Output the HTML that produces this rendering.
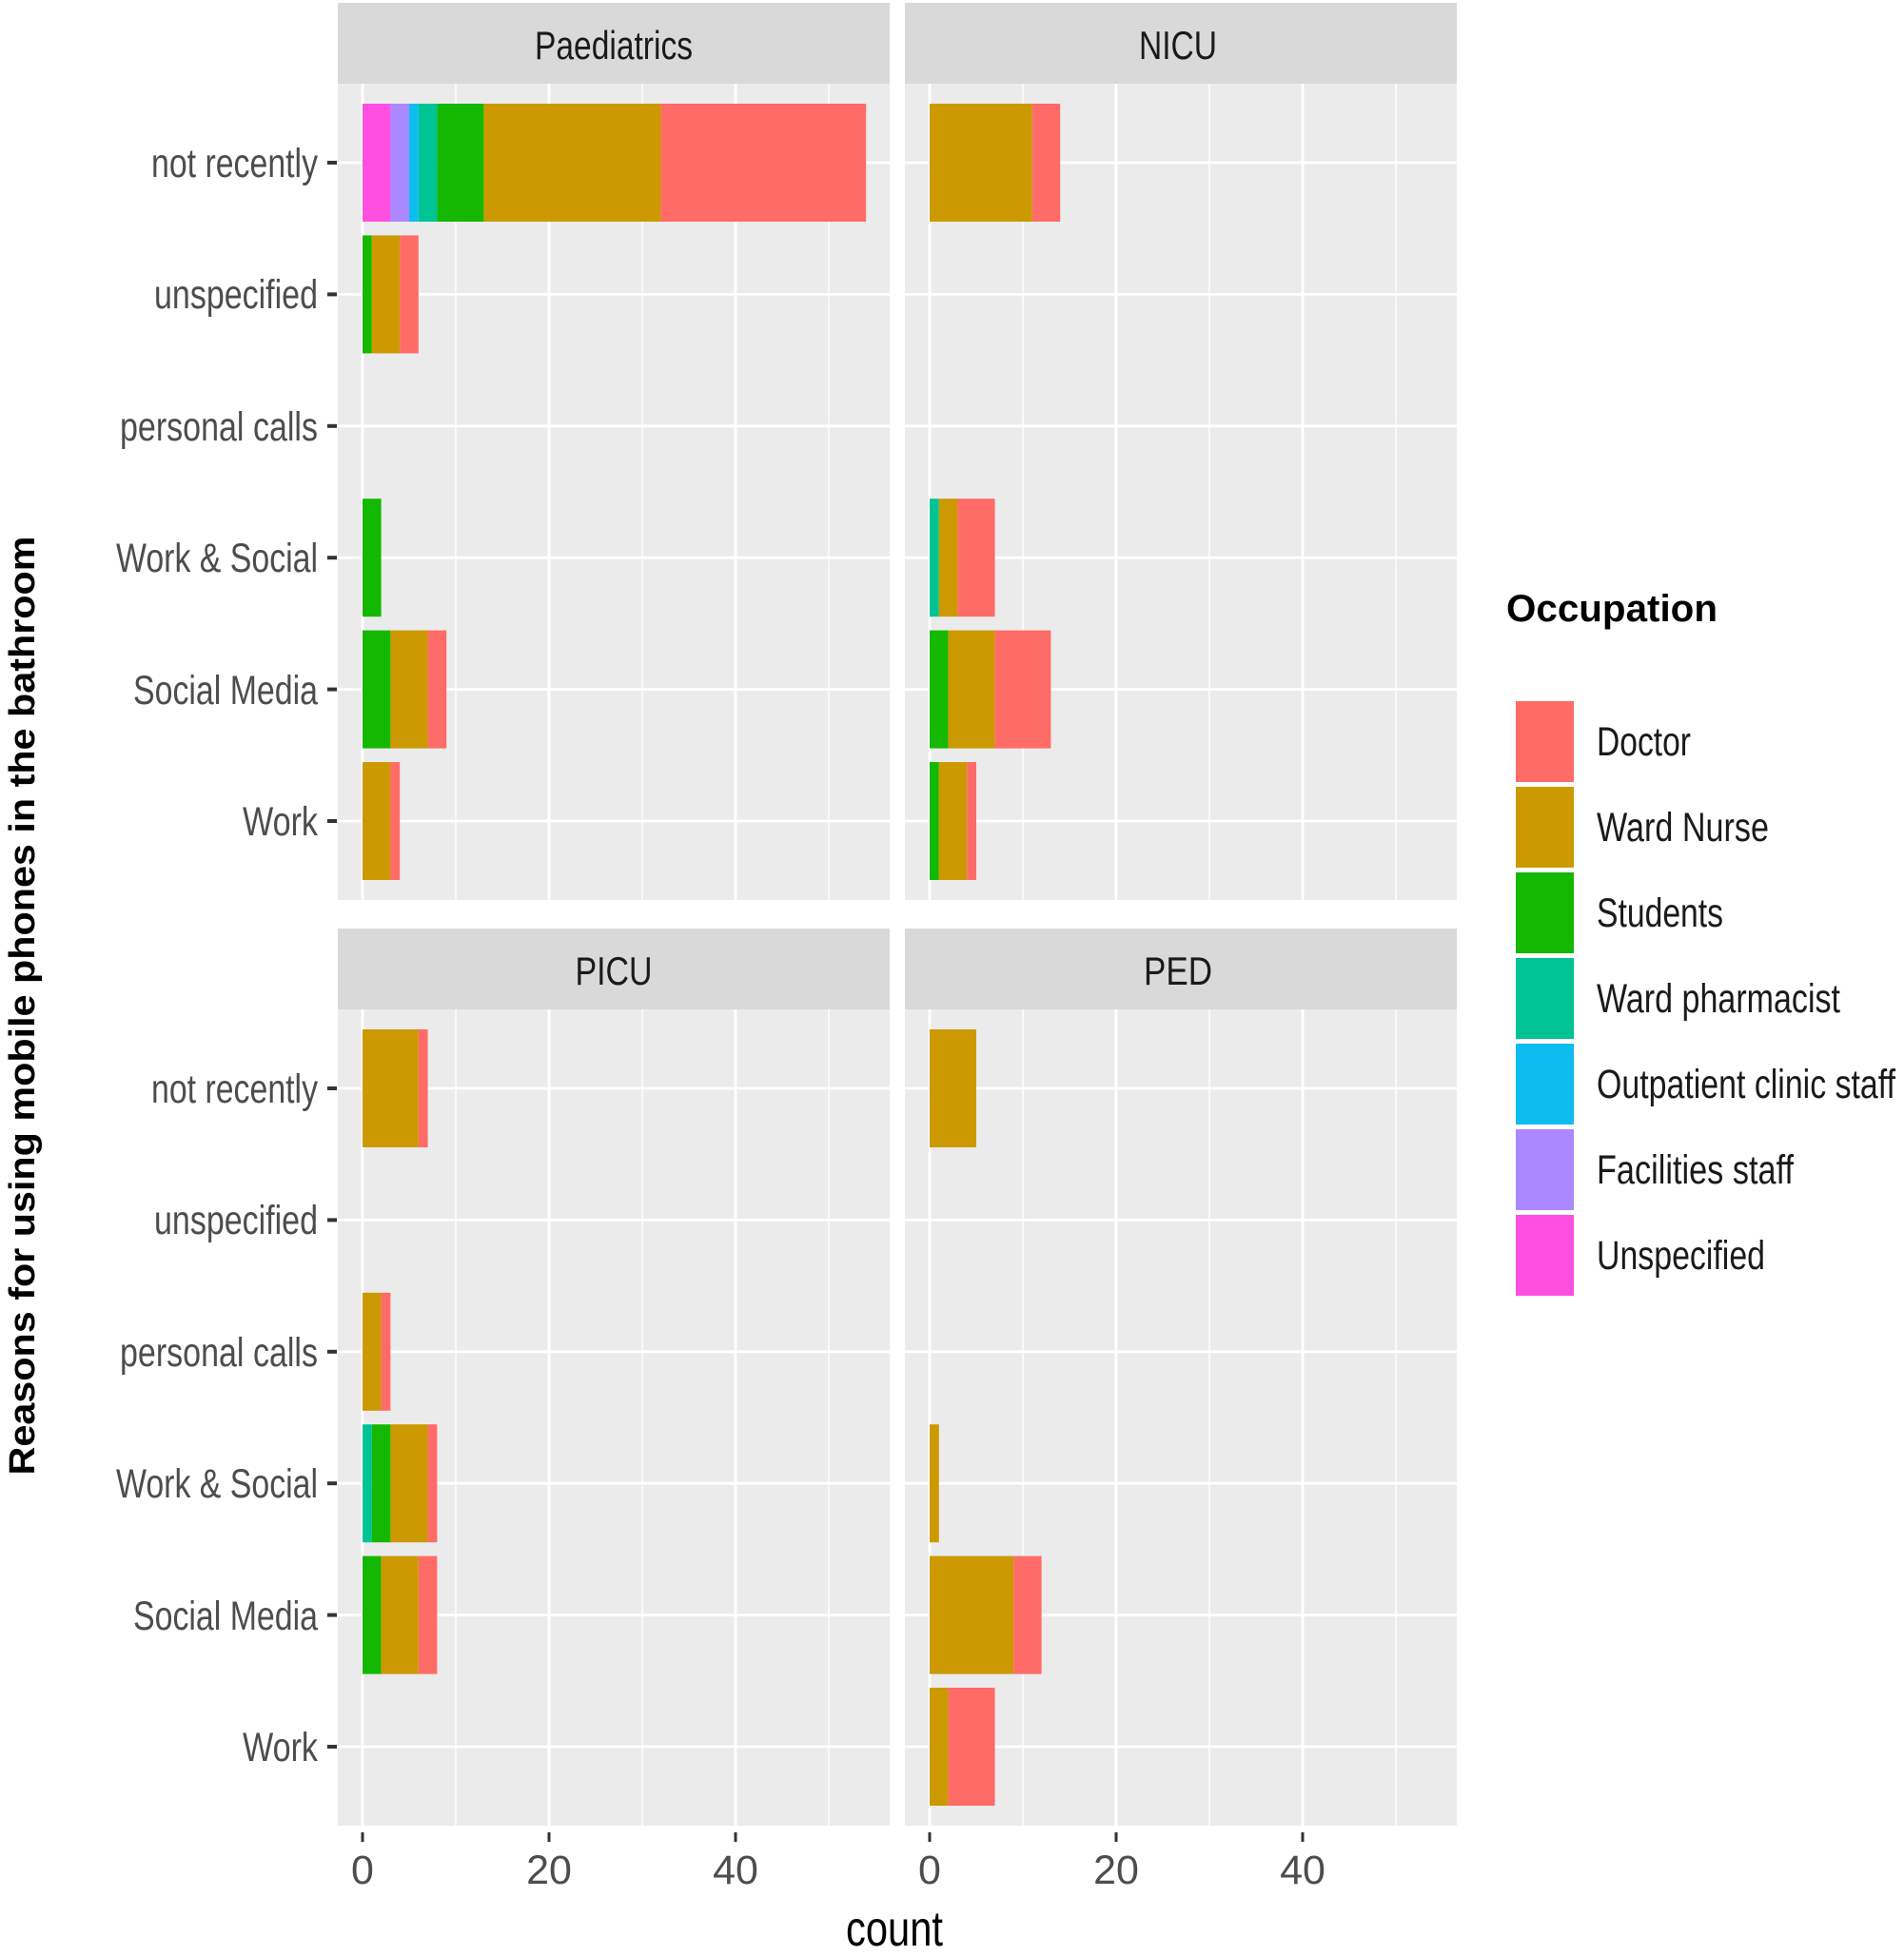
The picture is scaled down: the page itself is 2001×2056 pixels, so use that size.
<!DOCTYPE html>
<html><head><meta charset="utf-8"><style>html,body{margin:0;padding:0;background:#fff}svg{display:block}</style></head>
<body>
<svg width="2001" height="2056" viewBox="0 0 2001 2056" xmlns="http://www.w3.org/2000/svg" font-family="'Liberation Sans Narrow','Liberation Sans',sans-serif">
<defs>
<g id="grid">
<rect x="-26" y="0" width="580" height="858" fill="#EBEBEB"/>
<g stroke="#fff" stroke-width="1.4"><line x1="98" y1="0" x2="98" y2="858"/><line x1="294" y1="0" x2="294" y2="858"/><line x1="490" y1="0" x2="490" y2="858"/></g>
<g stroke="#fff" stroke-width="2.8"><line x1="0" y1="0" x2="0" y2="858"/><line x1="196" y1="0" x2="196" y2="858"/><line x1="392" y1="0" x2="392" y2="858"/>
<line x1="-26" y1="83" x2="554" y2="83"/><line x1="-26" y1="221.4" x2="554" y2="221.4"/><line x1="-26" y1="359.8" x2="554" y2="359.8"/><line x1="-26" y1="498.2" x2="554" y2="498.2"/><line x1="-26" y1="636.6" x2="554" y2="636.6"/><line x1="-26" y1="775" x2="554" y2="775"/></g>
</g>
</defs>
<rect x="355" y="3" width="580" height="85" fill="#D9D9D9"/>
<rect x="951" y="3" width="580" height="85" fill="#D9D9D9"/>
<rect x="355" y="976" width="580" height="85" fill="#D9D9D9"/>
<rect x="951" y="976" width="580" height="85" fill="#D9D9D9"/>
<g font-size="42" fill="#1A1A1A" text-anchor="middle">
<text x="645" y="62" textLength="166" lengthAdjust="spacingAndGlyphs">Paediatrics</text>
<text x="1238" y="62" textLength="82" lengthAdjust="spacingAndGlyphs">NICU</text>
<text x="645" y="1035" textLength="81" lengthAdjust="spacingAndGlyphs">PICU</text>
<text x="1238" y="1035" textLength="72" lengthAdjust="spacingAndGlyphs">PED</text>
</g>
<use href="#grid" transform="translate(381,88)"/>
<use href="#grid" transform="translate(977,88)"/>
<use href="#grid" transform="translate(381,1061)"/>
<use href="#grid" transform="translate(977,1061)"/>

<g transform="translate(381,0)">
<rect x="0" y="109" width="29.4" height="124" fill="#FF4FE0"/>
<rect x="29.4" y="109" width="19.6" height="124" fill="#AA88FF"/>
<rect x="49" y="109" width="9.8" height="124" fill="#0DBDF0"/>
<rect x="58.8" y="109" width="19.6" height="124" fill="#00C494"/>
<rect x="78.4" y="109" width="49" height="124" fill="#15B800"/>
<rect x="127.4" y="109" width="186.2" height="124" fill="#CC9900"/>
<rect x="313.6" y="109" width="215.6" height="124" fill="#FF6B66"/>
<rect x="0" y="247.4" width="9.8" height="124" fill="#15B800"/>
<rect x="9.8" y="247.4" width="29.4" height="124" fill="#CC9900"/>
<rect x="39.2" y="247.4" width="19.6" height="124" fill="#FF6B66"/>
<rect x="0" y="524.2" width="19.6" height="124" fill="#15B800"/>
<rect x="0" y="662.6" width="29.4" height="124" fill="#15B800"/>
<rect x="29.4" y="662.6" width="39.2" height="124" fill="#CC9900"/>
<rect x="68.6" y="662.6" width="19.6" height="124" fill="#FF6B66"/>
<rect x="0" y="801" width="29.4" height="124" fill="#CC9900"/>
<rect x="29.4" y="801" width="9.8" height="124" fill="#FF6B66"/>
</g>
<g transform="translate(977,0)">
<rect x="0" y="109" width="107.8" height="124" fill="#CC9900"/>
<rect x="107.8" y="109" width="29.4" height="124" fill="#FF6B66"/>
<rect x="0" y="524.2" width="9.8" height="124" fill="#00C494"/>
<rect x="9.8" y="524.2" width="19.6" height="124" fill="#CC9900"/>
<rect x="29.4" y="524.2" width="39.2" height="124" fill="#FF6B66"/>
<rect x="0" y="662.6" width="19.6" height="124" fill="#15B800"/>
<rect x="19.6" y="662.6" width="49" height="124" fill="#CC9900"/>
<rect x="68.6" y="662.6" width="58.8" height="124" fill="#FF6B66"/>
<rect x="0" y="801" width="9.8" height="124" fill="#15B800"/>
<rect x="9.8" y="801" width="29.4" height="124" fill="#CC9900"/>
<rect x="39.2" y="801" width="9.8" height="124" fill="#FF6B66"/>
</g>
<g transform="translate(381,973)">
<rect x="0" y="109" width="58.8" height="124" fill="#CC9900"/>
<rect x="58.8" y="109" width="9.8" height="124" fill="#FF6B66"/>
<rect x="0" y="385.8" width="19.6" height="124" fill="#CC9900"/>
<rect x="19.6" y="385.8" width="9.8" height="124" fill="#FF6B66"/>
<rect x="0" y="524.2" width="9.8" height="124" fill="#00C494"/>
<rect x="9.8" y="524.2" width="19.6" height="124" fill="#15B800"/>
<rect x="29.4" y="524.2" width="39.2" height="124" fill="#CC9900"/>
<rect x="68.6" y="524.2" width="9.8" height="124" fill="#FF6B66"/>
<rect x="0" y="662.6" width="19.6" height="124" fill="#15B800"/>
<rect x="19.6" y="662.6" width="39.2" height="124" fill="#CC9900"/>
<rect x="58.8" y="662.6" width="19.6" height="124" fill="#FF6B66"/>
</g>
<g transform="translate(977,973)">
<rect x="0" y="109" width="49" height="124" fill="#CC9900"/>
<rect x="0" y="524.2" width="9.8" height="124" fill="#CC9900"/>
<rect x="0" y="662.6" width="88.2" height="124" fill="#CC9900"/>
<rect x="88.2" y="662.6" width="29.4" height="124" fill="#FF6B66"/>
<rect x="0" y="801" width="19.6" height="124" fill="#CC9900"/>
<rect x="19.6" y="801" width="49" height="124" fill="#FF6B66"/>
</g>

<g stroke="#333" stroke-width="4">
<line x1="344" y1="171" x2="354" y2="171"/><line x1="344" y1="309.4" x2="354" y2="309.4"/><line x1="344" y1="447.8" x2="354" y2="447.8"/><line x1="344" y1="586.2" x2="354" y2="586.2"/><line x1="344" y1="724.6" x2="354" y2="724.6"/><line x1="344" y1="863" x2="354" y2="863"/>
<line x1="344" y1="1144" x2="354" y2="1144"/><line x1="344" y1="1282.4" x2="354" y2="1282.4"/><line x1="344" y1="1420.8" x2="354" y2="1420.8"/><line x1="344" y1="1559.2" x2="354" y2="1559.2"/><line x1="344" y1="1697.6" x2="354" y2="1697.6"/><line x1="344" y1="1836" x2="354" y2="1836"/>
</g>
<g font-size="43" fill="#4D4D4D" text-anchor="end">
<text x="334" y="186" textLength="175" lengthAdjust="spacingAndGlyphs">not recently</text>
<text x="334" y="324" textLength="172" lengthAdjust="spacingAndGlyphs">unspecified</text>
<text x="334" y="463" textLength="208" lengthAdjust="spacingAndGlyphs">personal calls</text>
<text x="334" y="601" textLength="212" lengthAdjust="spacingAndGlyphs">Work &amp; Social</text>
<text x="334" y="740" textLength="194" lengthAdjust="spacingAndGlyphs">Social Media</text>
<text x="334" y="878" textLength="79" lengthAdjust="spacingAndGlyphs">Work</text>
<text x="334" y="1159" textLength="175" lengthAdjust="spacingAndGlyphs">not recently</text>
<text x="334" y="1297" textLength="172" lengthAdjust="spacingAndGlyphs">unspecified</text>
<text x="334" y="1436" textLength="208" lengthAdjust="spacingAndGlyphs">personal calls</text>
<text x="334" y="1574" textLength="212" lengthAdjust="spacingAndGlyphs">Work &amp; Social</text>
<text x="334" y="1713" textLength="194" lengthAdjust="spacingAndGlyphs">Social Media</text>
<text x="334" y="1851" textLength="79" lengthAdjust="spacingAndGlyphs">Work</text>
</g>
<g stroke="#333" stroke-width="3">
<line x1="381" y1="1926" x2="381" y2="1936"/><line x1="577" y1="1926" x2="577" y2="1936"/><line x1="773" y1="1926" x2="773" y2="1936"/>
<line x1="977" y1="1926" x2="977" y2="1936"/><line x1="1173" y1="1926" x2="1173" y2="1936"/><line x1="1369" y1="1926" x2="1369" y2="1936"/>
</g>
<g font-size="43" fill="#4D4D4D" text-anchor="middle">
<text x="381" y="1980">0</text><text x="577" y="1980">20</text><text x="773" y="1980">40</text>
<text x="977" y="1980">0</text><text x="1173" y="1980">20</text><text x="1369" y="1980">40</text>
</g>
<text x="940" y="2045" font-size="52" fill="#000" text-anchor="middle" textLength="102" lengthAdjust="spacingAndGlyphs">count</text>
<text transform="translate(36,1057) rotate(-90)" font-family="'Liberation Sans',sans-serif" font-weight="bold" font-size="38" text-anchor="middle" textLength="987" lengthAdjust="spacingAndGlyphs">Reasons for using mobile phones in the bathroom</text>

<text x="1583" y="653" font-family="'Liberation Sans',sans-serif" font-weight="bold" font-size="40" textLength="222" lengthAdjust="spacingAndGlyphs">Occupation</text>
<rect x="1593" y="737" width="61" height="85" fill="#FF6B66"/>
<rect x="1593" y="827" width="61" height="85" fill="#CC9900"/>
<rect x="1593" y="917" width="61" height="85" fill="#15B800"/>
<rect x="1593" y="1007" width="61" height="85" fill="#00C494"/>
<rect x="1593" y="1097" width="61" height="85" fill="#0DBDF0"/>
<rect x="1593" y="1187" width="61" height="85" fill="#AA88FF"/>
<rect x="1593" y="1277" width="61" height="85" fill="#FF4FE0"/>
<g font-size="43" fill="#1A1A1A">
<text x="1678" y="794" textLength="99" lengthAdjust="spacingAndGlyphs">Doctor</text>
<text x="1678" y="884" textLength="181" lengthAdjust="spacingAndGlyphs">Ward Nurse</text>
<text x="1678" y="974" textLength="133" lengthAdjust="spacingAndGlyphs">Students</text>
<text x="1678" y="1064" textLength="256" lengthAdjust="spacingAndGlyphs">Ward pharmacist</text>
<text x="1678" y="1154" textLength="314" lengthAdjust="spacingAndGlyphs">Outpatient clinic staff</text>
<text x="1678" y="1244" textLength="207" lengthAdjust="spacingAndGlyphs">Facilities staff</text>
<text x="1678" y="1334" textLength="177" lengthAdjust="spacingAndGlyphs">Unspecified</text>
</g>
</svg>
</body></html>
